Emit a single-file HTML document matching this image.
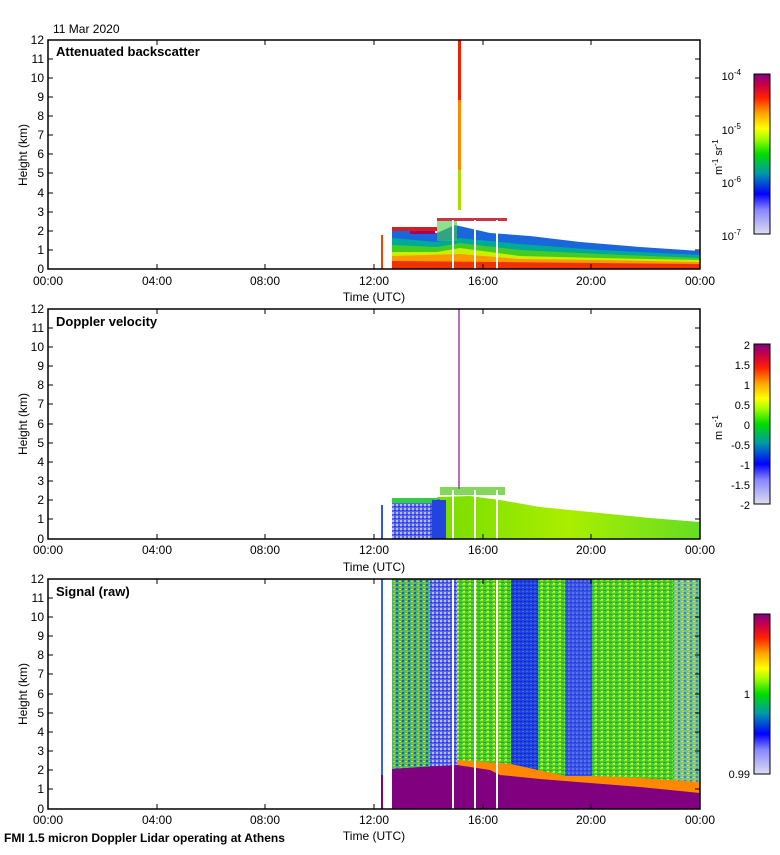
<!DOCTYPE html>
<html><head><meta charset="utf-8"><style>
body{margin:0;background:#fff;}
svg text{font-family:"Liberation Sans",sans-serif;}
</style></head><body>
<svg width="780" height="850" viewBox="0 0 780 850" xmlns="http://www.w3.org/2000/svg">
<defs>
<linearGradient id="cb1" x1="0" y1="1" x2="0" y2="0">
<stop offset="0" stop-color="#ddddee"/><stop offset="0.15" stop-color="#8888ff"/><stop offset="0.25" stop-color="#0000ff"/><stop offset="0.38" stop-color="#0099aa"/><stop offset="0.5" stop-color="#00dd00"/><stop offset="0.6" stop-color="#aaff00"/><stop offset="0.66" stop-color="#ffff00"/><stop offset="0.75" stop-color="#ffaa00"/><stop offset="0.85" stop-color="#ff2200"/><stop offset="0.93" stop-color="#cc0044"/><stop offset="1" stop-color="#800080"/>
</linearGradient>
<linearGradient id="vel" x1="0" y1="0" x2="1" y2="0">
<stop offset="0" stop-color="#77dd00"/><stop offset="0.5" stop-color="#aaee00"/><stop offset="1" stop-color="#66dd22"/>
</linearGradient>
<pattern id="noiseG" width="6" height="4" patternUnits="userSpaceOnUse">
<rect width="6" height="4" fill="#44cc33"/><rect x="0" y="0" width="3" height="1" fill="#aaee00"/><rect x="3" y="2" width="3" height="1" fill="#00aa77"/><rect x="1" y="3" width="2" height="1" fill="#ffee00"/>
</pattern>
<pattern id="noiseB" width="4" height="4" patternUnits="userSpaceOnUse">
<rect width="4" height="4" fill="#2244dd"/><rect x="0" y="1" width="2" height="1" fill="#0022ee"/><rect x="2" y="3" width="2" height="1" fill="#4466cc"/>
</pattern>
<pattern id="noiseW" width="4" height="4" patternUnits="userSpaceOnUse">
<rect width="4" height="4" fill="#5566ee"/><rect x="0" y="0" width="2" height="2" fill="#bbbbee"/><rect x="2" y="2" width="2" height="1" fill="#2233dd"/>
</pattern>
<pattern id="noiseM" width="6" height="4" patternUnits="userSpaceOnUse">
<rect width="6" height="4" fill="#44bb66"/><rect x="0" y="0" width="2" height="2" fill="#2255dd"/><rect x="3" y="1" width="2" height="1" fill="#ccee00"/><rect x="4" y="3" width="2" height="1" fill="#ff9900"/>
</pattern>
</defs>

<text x="53" y="33" font-size="12">11 Mar 2020</text>

<!-- PANEL 1 -->
<g>
<polygon points="392,229 437,233 455,225 490,233 530,236 580,242 640,247 700,251 700,269 392,269" fill="#1a66dd"/>
<polygon points="392,238 437,242 460,238 520,244 600,250 700,255 700,269 392,269" fill="#00aa99"/>
<polygon points="392,245 437,247 460,243 520,250 600,254 700,258 700,269 392,269" fill="#44cc22"/>
<polygon points="392,252 437,252 460,248 520,256 600,258 700,260 700,269 392,269" fill="#ccee00"/>
<polygon points="392,256 460,254 520,259 600,260 700,262 700,269 392,269" fill="#ff9900"/>
<polygon points="392,261 700,264 700,269 392,269" fill="#ee3300"/>
<rect x="392" y="227" width="45" height="4" fill="#cc2222"/>
<rect x="410" y="231" width="25" height="3" fill="#aa0066"/>
<rect x="437" y="218" width="70" height="3" fill="#cc3344"/>
<rect x="437" y="221" width="20" height="20" fill="#44cc44" opacity="0.6"/>
<rect x="458" y="40" width="3" height="60" fill="#ee2200"/>
<rect x="458" y="100" width="3" height="70" fill="#ff8800"/>
<rect x="458" y="170" width="3" height="40" fill="#aadd00"/>
<rect x="381" y="235" width="2" height="34" fill="#ee4400"/>
<rect x="452" y="220" width="2" height="49" fill="#fff"/><rect x="474" y="220" width="2" height="49" fill="#fff"/><rect x="496" y="220" width="2" height="49" fill="#fff"/>
<rect x="48" y="40" width="652" height="229" fill="none" stroke="#000" stroke-width="1.5"/>
<text x="56" y="56" font-size="13" font-weight="bold">Attenuated backscatter</text>
</g>

<!-- PANEL 2 -->
<g>
<polygon points="437,497 470,496 500,500 540,507 600,513 650,518 700,522 700,539 437,539" fill="url(#vel)"/>
<polygon points="392,498 440,499 440,539 392,539" fill="url(#noiseW)"/>
<rect x="392" y="498" width="46" height="5" fill="#33cc44"/>
<rect x="432" y="500" width="14" height="39" fill="#2244dd"/>
<rect x="440" y="487" width="65" height="8" fill="#66cc33" opacity="0.8"/>
<rect x="458" y="309" width="2" height="180" fill="#993399" opacity="0.7"/>
<rect x="381" y="505" width="2" height="34" fill="#3355dd"/>
<rect x="452" y="490" width="2" height="49" fill="#fff"/><rect x="474" y="490" width="2" height="49" fill="#fff"/><rect x="496" y="490" width="2" height="49" fill="#fff"/>
<rect x="48" y="309" width="652" height="230" fill="none" stroke="#000" stroke-width="1.5"/>
<text x="56" y="326" font-size="13" font-weight="bold">Doppler velocity</text>
</g>

<!-- PANEL 3 -->
<g>
<rect x="392" y="579" width="38" height="195" fill="url(#noiseM)"/>
<rect x="430" y="579" width="27" height="195" fill="url(#noiseW)"/>
<rect x="457" y="579" width="54" height="200" fill="url(#noiseG)"/>
<rect x="511" y="579" width="27" height="200" fill="url(#noiseB)"/>
<rect x="538" y="579" width="27" height="205" fill="url(#noiseG)"/>
<rect x="565" y="579" width="27" height="205" fill="url(#noiseW)"/>
<rect x="565" y="579" width="27" height="205" fill="#2244dd" opacity="0.6"/>
<rect x="592" y="579" width="81" height="215" fill="url(#noiseG)"/>
<rect x="673" y="579" width="27" height="215" fill="url(#noiseM)" opacity="0.8"/>
<polygon points="457,760 511,764 511,764 538,770 565,776 592,776 640,778 700,782 700,795 457,780" fill="#ff8800"/>
<polygon points="392,769 420,767 457,765 490,770 500,775 540,779 590,783 640,787 700,793 700,809 392,809" fill="#800080"/>
<rect x="381" y="579" width="2" height="230" fill="#3366dd"/>
<rect x="381" y="775" width="2" height="34" fill="#800080"/>
<rect x="452" y="579" width="2" height="230" fill="#fff"/><rect x="474" y="579" width="2" height="230" fill="#fff"/><rect x="496" y="579" width="2" height="230" fill="#fff"/>
<rect x="48" y="579" width="652" height="230" fill="none" stroke="#000" stroke-width="1.5"/>
<text x="56" y="596" font-size="13" font-weight="bold">Signal (raw)</text>
</g>

<g font-size="12" text-anchor="end" stroke="none">
<text x="44" y="44">12</text><text x="44" y="63">11</text><text x="44" y="82">10</text><text x="44" y="101">9</text><text x="44" y="120">8</text><text x="44" y="139">7</text><text x="44" y="158">6</text><text x="44" y="177">5</text><text x="44" y="197">4</text><text x="44" y="216">3</text><text x="44" y="235">2</text><text x="44" y="254">1</text><text x="44" y="273">0</text>
<text x="44" y="313">12</text><text x="44" y="332">11</text><text x="44" y="351">10</text><text x="44" y="370">9</text><text x="44" y="389">8</text><text x="44" y="408">7</text><text x="44" y="428">6</text><text x="44" y="447">5</text><text x="44" y="466">4</text><text x="44" y="485">3</text><text x="44" y="504">2</text><text x="44" y="523">1</text><text x="44" y="543">0</text>
<text x="44" y="583">12</text><text x="44" y="602">11</text><text x="44" y="621">10</text><text x="44" y="640">9</text><text x="44" y="659">8</text><text x="44" y="678">7</text><text x="44" y="698">6</text><text x="44" y="717">5</text><text x="44" y="736">4</text><text x="44" y="755">3</text><text x="44" y="774">2</text><text x="44" y="793">1</text><text x="44" y="813">0</text>
</g>
<g stroke="#000" stroke-width="1">
<path d="M48 59h5M48 78h5M48 97h5M48 116h5M48 135h5M48 154h5M48 173h5M48 193h5M48 212h5M48 231h5M48 250h5M695 59h5M695 78h5M695 97h5M695 116h5M695 135h5M695 154h5M695 173h5M695 193h5M695 212h5M695 231h5M695 250h5"/>
<path d="M48 328h5M48 347h5M48 366h5M48 385h5M48 404h5M48 424h5M48 443h5M48 462h5M48 481h5M48 500h5M48 519h5M695 328h5M695 347h5M695 366h5M695 385h5M695 404h5M695 424h5M695 443h5M695 462h5M695 481h5M695 500h5M695 519h5"/>
<path d="M48 598h5M48 617h5M48 636h5M48 655h5M48 674h5M48 694h5M48 713h5M48 732h5M48 751h5M48 770h5M48 789h5M695 598h5M695 617h5M695 636h5M695 655h5M695 674h5M695 694h5M695 713h5M695 732h5M695 751h5M695 770h5M695 789h5"/>
<path d="M157 40v5M265 40v5M374 40v5M483 40v5M591 40v5M157 269v-5M265 269v-5M374 269v-5M483 269v-5M591 269v-5"/>
<path d="M157 309v5M265 309v5M374 309v5M483 309v5M591 309v5M157 539v-5M265 539v-5M374 539v-5M483 539v-5M591 539v-5"/>
<path d="M157 579v5M265 579v5M374 579v5M483 579v5M591 579v5M157 809v-5M265 809v-5M374 809v-5M483 809v-5M591 809v-5"/>
</g>
<g font-size="12" text-anchor="middle">
<text x="48" y="285">00:00</text><text x="157" y="285">04:00</text><text x="265" y="285">08:00</text><text x="374" y="285">12:00</text><text x="483" y="285">16:00</text><text x="591" y="285">20:00</text><text x="700" y="285">00:00</text>
<text x="374" y="301">Time (UTC)</text>
<text x="48" y="554">00:00</text><text x="157" y="554">04:00</text><text x="265" y="554">08:00</text><text x="374" y="554">12:00</text><text x="483" y="554">16:00</text><text x="591" y="554">20:00</text><text x="700" y="554">00:00</text>
<text x="374" y="571">Time (UTC)</text>
<text x="48" y="824">00:00</text><text x="157" y="824">04:00</text><text x="265" y="824">08:00</text><text x="374" y="824">12:00</text><text x="483" y="824">16:00</text><text x="591" y="824">20:00</text><text x="700" y="824">00:00</text>
<text x="374" y="840">Time (UTC)</text>
<text transform="translate(27,155) rotate(-90)">Height (km)</text>
<text transform="translate(27,424) rotate(-90)">Height (km)</text>
<text transform="translate(27,694) rotate(-90)">Height (km)</text>
</g>
<text x="4" y="842" font-size="12" font-weight="bold">FMI 1.5 micron Doppler Lidar operating at Athens</text>

<rect x="754" y="74" width="16" height="160" fill="url(#cb1)" stroke="#000"/>
<rect x="754" y="344" width="16" height="160" fill="url(#cb1)" stroke="#000"/>
<rect x="754" y="614" width="16" height="160" fill="url(#cb1)" stroke="#000"/>
<g font-size="11" text-anchor="end">
<text x="741" y="80">10<tspan dy="-5" font-size="8">-4</tspan></text>
<text x="741" y="134">10<tspan dy="-5" font-size="8">-5</tspan></text>
<text x="741" y="187">10<tspan dy="-5" font-size="8">-6</tspan></text>
<text x="741" y="240">10<tspan dy="-5" font-size="8">-7</tspan></text>
<text x="750" y="349">2</text><text x="750" y="369">1.5</text><text x="750" y="389">1</text><text x="750" y="409">0.5</text><text x="750" y="429">0</text><text x="750" y="449">-0.5</text><text x="750" y="469">-1</text><text x="750" y="489">-1.5</text><text x="750" y="509">-2</text>
<text x="750" y="698">1</text><text x="750" y="778">0.99</text>
</g>
<text transform="translate(722,175) rotate(-90)" font-size="11">m<tspan dy="-4" font-size="8">-1</tspan><tspan dy="4"> sr</tspan><tspan dy="-4" font-size="8">-1</tspan></text>
<text transform="translate(722,440) rotate(-90)" font-size="11">m s<tspan dy="-4" font-size="8">-1</tspan></text>
</svg>
</body></html>
